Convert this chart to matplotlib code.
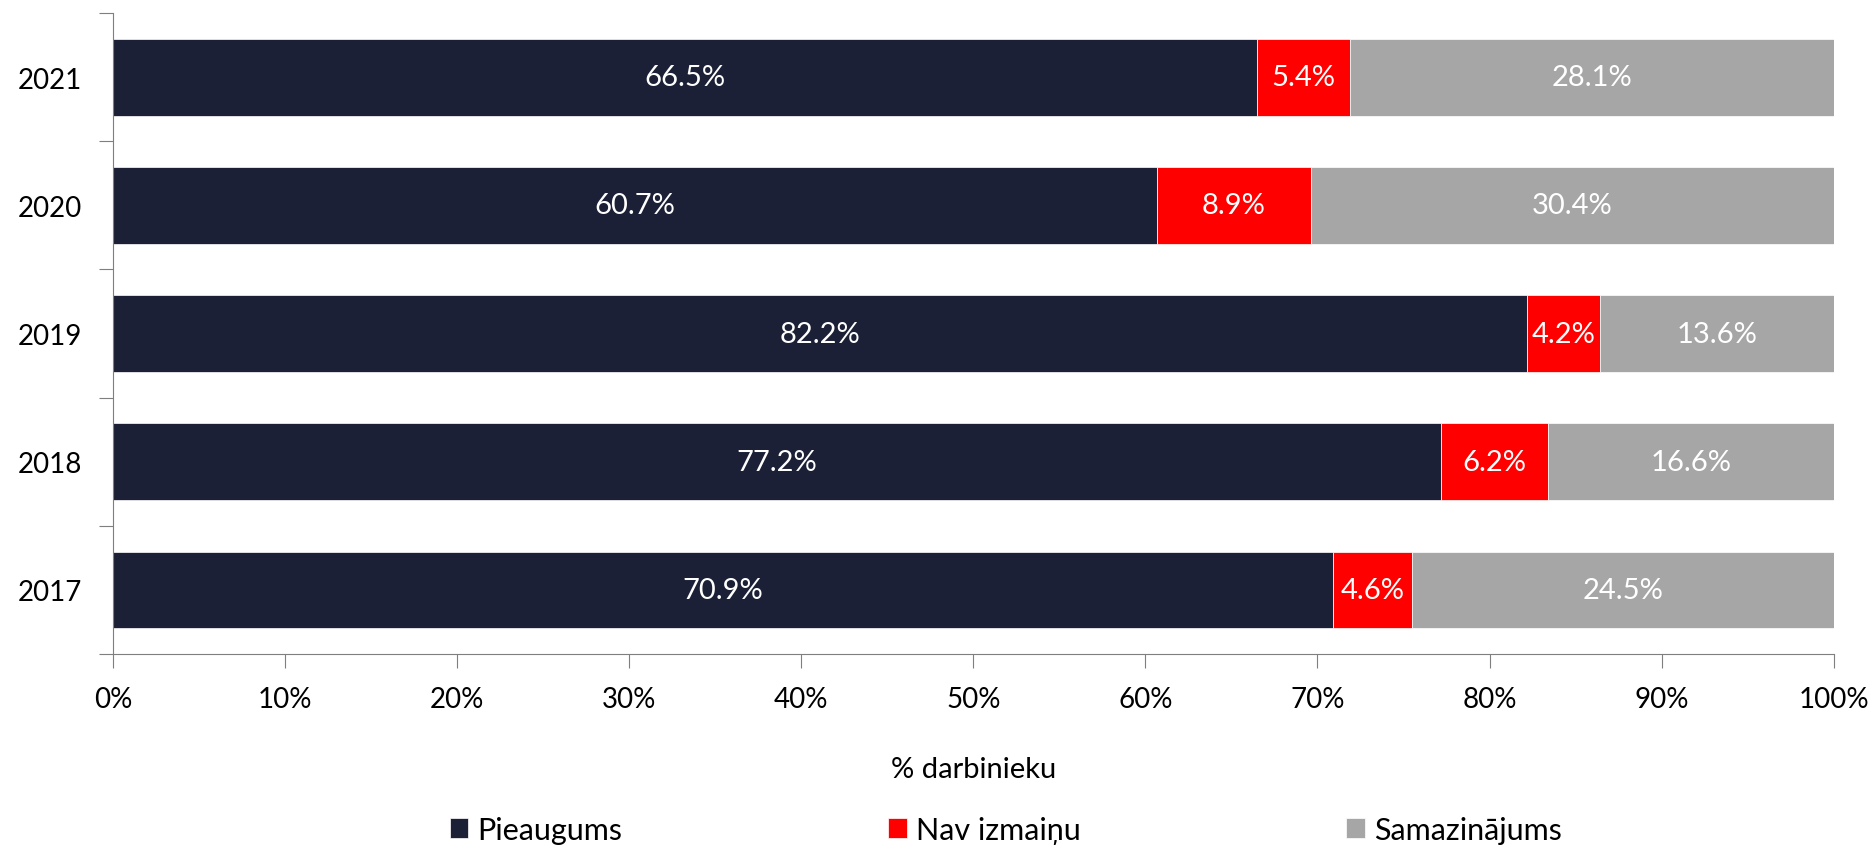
import numpy as np
import matplotlib.pyplot as plt

years = ['2017', '2018', '2019', '2020', '2021']
increase = [70.9, 77.2, 82.2, 60.7, 66.5]
no_change = [4.6, 6.2, 4.2, 8.9, 5.4]
decrease = [24.5, 16.6, 13.6, 30.4, 28.1]

series = [('Pieaugums', increase, '#1b2036'),
          ('Nav izmaiņu', no_change, '#ff0000'),
          ('Samazinājums', decrease, '#a6a6a6')]

plt.rcParams['font.family'] = ['Lato', 'DejaVu Sans']
plt.rcParams['font.size'] = 20

fig = plt.figure(figsize=(18.73, 8.53), dpi=100)
ax = fig.add_axes([0.0603, 0.232, 0.9187, 0.7516])

y = np.arange(len(years))
left = np.zeros(len(years))
for name, vals, color in series:
    vals = np.array(vals)
    ax.barh(y, vals, left=left, height=0.6, color=color, label=name,
            edgecolor='white', linewidth=0.5)
    for yi, l, v in zip(y, left, vals):
        ax.text(l + v / 2, yi, '%.1f%%' % v, ha='center', va='center',
                color='white', fontsize=21)
    left += vals

ax.set_xlim(0, 100)
ax.set_ylim(-0.5, len(years) - 0.5)
ax.set_xticks(np.arange(0, 101, 10))
ax.set_xticklabels(['%d%%' % t for t in range(0, 101, 10)])
ax.set_yticks(np.arange(-0.5, len(years), 1))
ax.set_yticklabels([])
ax.set_yticks(y, minor=True)
ax.set_yticklabels(years, minor=True)
ax.tick_params(axis='y', which='minor', length=0, pad=22)
ax.tick_params(axis='y', which='major', length=10, color='#7f7f7f')
ax.tick_params(axis='x', length=10, color='#7f7f7f', pad=13)

for s in ['top', 'right']:
    ax.spines[s].set_visible(False)
for s in ['left', 'bottom']:
    ax.spines[s].set_color('#7f7f7f')

ax.set_xlabel('% darbinieku', labelpad=32, fontsize=21)

# legend sits at the very bottom edge, as in the original
ax.legend(loc='center', bbox_to_anchor=(0.537, 0.026), bbox_transform=fig.transFigure,
          ncol=3, frameon=False, handlelength=0.6, handleheight=0.6,
          handletextpad=0.3, columnspacing=8.7, fontsize=22)

fig.savefig('out.png', dpi=100)
